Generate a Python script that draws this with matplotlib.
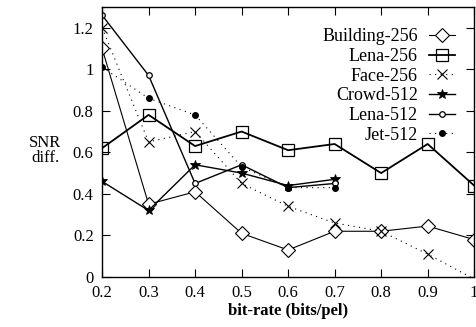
import matplotlib
matplotlib.use("Agg")
import matplotlib.pyplot as plt
from matplotlib.ticker import FuncFormatter

plt.rcParams['font.family'] = ['Liberation Serif', 'DejaVu Serif']

# datos
tasa = [0.2, 0.3, 0.4, 0.5, 0.6, 0.7, 0.8, 0.9, 1.0]
tasa512 = [0.2, 0.3, 0.4, 0.5, 0.6, 0.7]

building256 = [1.10, 0.35, 0.41, 0.21, 0.13, 0.22, 0.22, 0.245, 0.18]
lena256 = [0.62, 0.78, 0.63, 0.70, 0.61, 0.64, 0.50, 0.64, 0.44]
face256 = [1.20, 0.65, 0.70, 0.45, 0.34, 0.26, 0.22, 0.11, -0.01]
crowd512 = [0.46, 0.32, 0.54, 0.50, 0.44, 0.47]
lena512 = [1.26, 0.97, 0.45, 0.54, 0.43, 0.45]
jet512 = [1.01, 0.86, 0.78, 0.53, 0.43, 0.43]

fig = plt.figure(figsize=(4.77, 3.27), dpi=100)
ax = fig.add_axes([0.214, 0.153, 0.780, 0.826])

ax.plot(tasa, building256, color='k', lw=0.8, marker='D', ms=7, mfc='white', mew=0.8,
        label='Building-256')
ax.plot(tasa, lena256, color='k', lw=1.3, marker='s', ms=8, mfc='none', mew=0.9,
        label='Lena-256')
ax.plot(tasa, face256, color='k', lw=0.8, ls=(0, (1, 4)), marker='x', ms=7, mew=0.8,
        markevery=slice(0, 8), label='Face-256')
ax.plot(tasa512, crowd512, color='k', lw=1.0, marker='*', ms=7, mew=0.6,
        label='Crowd-512')
ax.plot(tasa512, lena512, color='k', lw=1.0, marker='o', ms=4, mfc='white', mew=0.9,
        label='Lena-512')
ax.plot(tasa512, jet512, color='k', lw=0.8, ls=(0, (1, 4)), marker='o', ms=4,
        label='Jet-512')

ax.set_xlim(0.2, 1.0)
ax.set_ylim(0, 1.3)
ax.set_xticks(tasa)
ax.set_yticks([0, 0.2, 0.4, 0.6, 0.8, 1.0, 1.2])
fmt = FuncFormatter(lambda v, p: '%g' % round(v, 2))
ax.xaxis.set_major_formatter(fmt)
ax.yaxis.set_major_formatter(fmt)
ax.tick_params(direction='in', top=True, right=True, length=6, width=0.8,
               labelsize=12, pad=6)
for s in ax.spines.values():
    s.set_linewidth(1.0)

ax.set_xlabel('bit-rate (bits/pel)', fontsize=12, fontweight='bold', labelpad=1)
fig.text(0.095, 0.54, 'SNR\ndiff.', fontsize=12, ha='center', va='center',
         linespacing=0.9)

leg = ax.legend(loc='upper right', frameon=False, fontsize=13, markerfirst=False,
                handlelength=1.45, handletextpad=0.6, labelspacing=0.15,
                borderaxespad=0, borderpad=0.4,
                bbox_to_anchor=(462 / 477, 1 - 21 / 327),
                bbox_transform=fig.transFigure)
for t in leg.get_texts():
    t.set_ha('right')

fig.savefig('out.png', dpi=100)
